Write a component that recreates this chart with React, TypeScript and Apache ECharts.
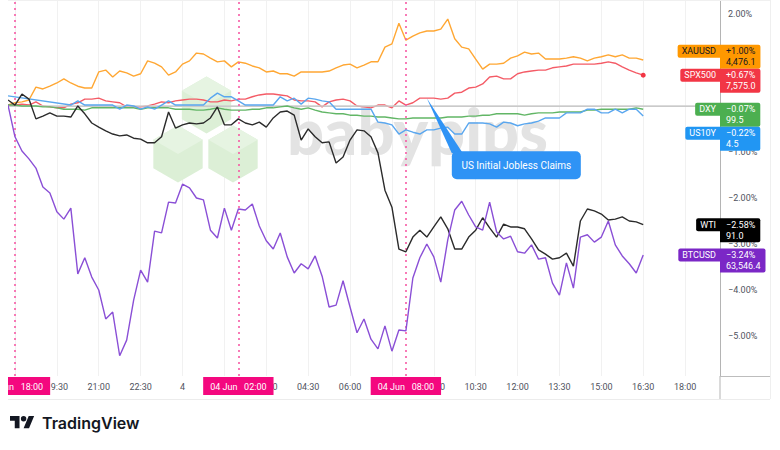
import React, { useEffect, useRef } from 'react';
import * as echarts from 'echarts';

// ---- categories: 15-minute bars, 03 Jun 17:45 -> 04 Jun 19:15 ----
const DAY_NAMES = ['03 Jun', '04 Jun'];
const START_MIN = 17 * 60 + 45;
const STEP_MIN = 15;
const CATEGORY_COUNT = 103;
const categories: string[] = [];
for (let i = 0; i < CATEGORY_COUNT; i++) {
  const t = START_MIN + STEP_MIN * i;
  const d = Math.floor(t / 1440);
  const m = t % 1440;
  categories.push(
    `${DAY_NAMES[d]} ${String(Math.floor(m / 60)).padStart(2, '0')}:${String(m % 60).padStart(2, '0')}`
  );
}

// ---- % change series ----
const xauusd = [
  0.02, 0.07, 0.09, 0.13, 0.41, 0.37, 0.43, 0.5, 0.59, 0.5,
  0.43, 0.39, 0.39, 0.74, 0.78, 0.63, 0.76, 0.72, 0.65, 0.7,
  0.98, 0.93, 0.85, 0.67, 0.74, 0.91, 0.98, 1.15, 1.13, 1.04,
  0.96, 0.98, 0.85, 0.96, 0.93, 0.87, 0.83, 0.74, 0.76, 0.7,
  0.7, 0.65, 0.74, 0.74, 0.74, 0.74, 0.76, 0.83, 0.89, 0.91,
  0.83, 0.89, 0.96, 0.96, 1.28, 1.35, 1.8, 1.43, 1.52, 1.59,
  1.63, 1.63, 1.67, 1.89, 1.46, 1.28, 1.24, 1.02, 0.8, 0.91,
  0.91, 0.93, 1.04, 1.09, 1.17, 1.13, 1.15, 1.02, 1.02, 1.02,
  1.04, 1.07, 1.04, 0.98, 1.04, 1.07, 1.11, 1.07, 1.11, 1.04,
  1.04, 1.0,
];
const spx500 = [
  0.02, 0.02, 0.04, 0.02, 0.09, 0.0, -0.02, -0.04, -0.04, 0.04,
  0.07, 0.15, 0.15, 0.17, 0.11, 0.09, 0.07, -0.02, -0.02, -0.02,
  0.0, 0.04, 0.09, 0.07, 0.11, 0.13, 0.15, 0.15, 0.13, 0.09,
  0.09, 0.13, 0.11, 0.15, 0.15, 0.2, 0.24, 0.26, 0.26, 0.24,
  0.22, 0.13, 0.11, 0.11, 0.09, -0.02, 0.09, 0.13, 0.15, 0.11,
  0.0, -0.02, -0.04, 0.02, 0.02, -0.04, 0.11, 0.02, 0.07, 0.17,
  0.17, 0.17, 0.15, 0.17, 0.28, 0.3, 0.39, 0.41, 0.48, 0.63,
  0.65, 0.59, 0.59, 0.7, 0.74, 0.76, 0.78, 0.78, 0.83, 0.85,
  0.87, 0.91, 0.91, 0.91, 0.91, 0.93, 0.96, 0.93, 0.85, 0.78,
  0.72, 0.67,
];
const dxy = [
  0.02, 0.02, 0.0, 0.0, 0.0, -0.02, -0.02, -0.04, -0.07, -0.07,
  -0.07, -0.09, -0.04, -0.04, -0.04, -0.04, -0.04, -0.04, -0.04, -0.07,
  -0.04, -0.04, -0.04, -0.04, -0.07, -0.07, -0.07, -0.09, -0.09, -0.07,
  -0.04, -0.07, -0.09, -0.09, -0.09, -0.07, -0.07, -0.04, -0.04, -0.02,
  0.0, -0.04, -0.07, -0.04, -0.09, -0.13, -0.15, -0.17, -0.17, -0.2,
  -0.2, -0.22, -0.22, -0.24, -0.24, -0.26, -0.28, -0.28, -0.26, -0.26,
  -0.26, -0.26, -0.26, -0.24, -0.24, -0.24, -0.22, -0.22, -0.2, -0.2,
  -0.17, -0.17, -0.17, -0.17, -0.2, -0.17, -0.15, -0.15, -0.15, -0.13,
  -0.13, -0.13, -0.13, -0.09, -0.09, -0.07, -0.07, -0.07, -0.07, -0.07,
  -0.04, -0.07,
];
const us10y = [
  0.22, null, null, null, null, null, null, null, null, 0.02,
  0.11, 0.02, 0.02, 0.02, 0.02, 0.02, -0.07, 0.02, 0.0, -0.07,
  -0.02, -0.07, 0.02, 0.11, 0.02, 0.02, 0.02, 0.02, 0.02, 0.17,
  0.28, 0.2, 0.2, 0.11, 0.02, 0.02, 0.02, 0.02, 0.02, 0.2,
  0.11, 0.17, 0.04, 0.17, 0.15, 0.11, 0.09, -0.07, -0.07, -0.07,
  -0.07, -0.07, -0.07, -0.35, -0.37, -0.41, -0.61, -0.52, -0.57, -0.61,
  -0.52, -0.52, -0.48, -0.46, -0.61, -0.61, -0.37, -0.37, -0.37, -0.39,
  -0.46, -0.35, -0.37, -0.43, -0.39, -0.37, -0.33, -0.26, -0.26, -0.26,
  -0.15, -0.15, -0.15, -0.07, -0.07, -0.15, -0.15, -0.07, -0.15, -0.07,
  -0.07, -0.22,
];
const wti = [
  0.13, 0.02, 0.26, 0.15, -0.28, -0.22, -0.15, -0.22, -0.22, -0.24,
  0.0, -0.17, -0.37, -0.46, -0.54, -0.61, -0.65, -0.63, -0.7, -0.72,
  -0.8, -0.8, -0.67, -0.13, -0.48, -0.41, -0.37, -0.39, -0.37, -0.26,
  -0.02, -0.41, -0.41, -0.28, -0.37, -0.41, -0.35, -0.46, -0.26, -0.13,
  -0.11, -0.2, -0.74, -0.5, -0.67, -0.8, -0.78, -1.24, -1.11, -0.74,
  -0.52, -0.54, -0.67, -1.02, -1.83, -2.2, -3.11, -3.17, -2.85, -2.7,
  -2.85, -2.63, -2.41, -2.67, -3.11, -3.11, -2.85, -2.7, -2.43, -2.65,
  -2.85, -2.57, -2.63, -2.63, -2.67, -2.89, -3.13, -3.22, -3.33, -3.3,
  -3.2, -3.48, -2.5, -2.24, -2.28, -2.35, -2.48, -2.46, -2.41, -2.5,
  -2.52, -2.58,
];
const btcusd = [
  0.02, -0.67, -0.98, -1.15, -1.35, -1.76, -1.89, -2.3, -2.46, -2.22,
  -3.65, -3.3, -3.72, -4.0, -4.63, -4.48, -5.43, -5.09, -4.22, -3.57,
  -3.83, -2.72, -2.76, -2.09, -2.11, -1.7, -1.78, -2.0, -2.04, -2.7,
  -2.87, -2.22, -2.7, -2.24, -2.26, -2.13, -2.61, -2.93, -3.11, -2.76,
  -3.28, -3.63, -3.43, -3.54, -3.26, -3.7, -4.37, -4.33, -3.8, -4.37,
  -4.93, -4.63, -5.07, -5.28, -4.78, -5.33, -4.87, -4.89, -3.74, -3.3,
  -3.0, -3.28, -3.83, -2.91, -2.26, -2.07, -2.37, -2.63, -2.7, -2.09,
  -2.74, -2.89, -2.83, -3.17, -3.2, -3.02, -3.33, -3.3, -3.85, -4.11,
  -3.41, -3.96, -2.85, -2.8, -2.96, -2.85, -2.5, -3.02, -3.26, -3.43,
  -3.63, -3.24,
];

const seriesNames = ['XAUUSD', 'SPX500', 'DXY', 'US10Y', 'WTI', 'BTCUSD'];
const seriesData = [xauusd, spx500, dxy, us10y, wti, btcusd];
const lastPrices = ['4,476.1', '7,575.0', '99.5', '4.5', '91.0', '63,546.4'];
const lineColors = ['#ffa733', '#f45b66', '#62b666', '#5aa7ef', '#2b2b2b', '#8a4fd6'];
const tagColors = ['#ff9800', '#f23645', '#4caf50', '#2196f3', '#000000', '#7b27c6'];
const tagTextColors = ['#131722', '#ffffff', '#ffffff', '#ffffff', '#ffffff', '#ffffff'];
const labelPriority = [1, 2, 4, 5, 0, 3];

// 1.00% and 0.00% sit fully under the XAUUSD / DXY price tags in the reference
const yTicks = [2, -1, -2, -3, -4, -5];
const sessionMarkers = ['03 Jun 18:00', '04 Jun 02:00', '04 Jun 08:00'];
const hiddenTickLabels = ['03 Jun 18:00', '04 Jun 01:30', '04 Jun 07:30']; // fully under the session boxes
const eventName = 'US Initial Jobless Claims';
const eventIndex = 60; // 04 Jun 08:45 on SPX500

const fmtPct = (v: number) => (v < 0 ? '\u2212' : '') + Math.abs(v).toFixed(2) + '%';
const fmtChg = (v: number) => (v < 0 ? '\u2212' : '+') + Math.abs(v).toFixed(2) + '%';

const TV_PATH = 'M14 22H7V11H0V4h14v18zM28 22h-8l7.5-18h8L28 22zM16 8a4 4 0 1 0 8 0a4 4 0 1 0 -8 0z';
echarts.graphic.registerShape('tvlogo', echarts.graphic.extendPath(TV_PATH, {}) as any);

const tickEvery = (i: number) => (i - 1) % 6 === 0;

function hexPoints(cx: number, cy: number, r: number) {
  const w = r * 0.866;
  return [
    [cx, cy - r], [cx + w, cy - r / 2], [cx + w, cy + r / 2],
    [cx, cy + r], [cx - w, cy + r / 2], [cx - w, cy - r / 2],
  ];
}
function hexTop(cx: number, cy: number, r: number) {
  const w = r * 0.866;
  return [[cx, cy - r], [cx + w, cy - r / 2], [cx, cy], [cx - w, cy - r / 2]];
}

export default function App() {
  const ref = useRef<HTMLDivElement>(null);
  useEffect(() => {
    const el = ref.current!;
    const chart = echarts.init(el, undefined, { renderer: 'svg' });
    const font = 'Roboto, "Noto Sans", sans-serif';

    const series: any[] = seriesNames.map((name, k) => ({
      name,
      type: 'line',
      data: seriesData[k],
      showSymbol: false,
      connectNulls: true,
      silent: true,
      z: 3 + k,
      lineStyle: { color: lineColors[k], width: 1.4 },
      itemStyle: { color: lineColors[k] },
    }));

    series[0].markLine = {
      silent: true,
      symbol: ['none', 'none'],
      animation: false,
      data: [
        { yAxis: 0, lineStyle: { color: '#cfcfcf', width: 1.6, type: 'solid' }, label: { show: false } },
        ...sessionMarkers.map((c) => ({
          xAxis: c,
          lineStyle: { color: '#f75aa5', width: 1.6, type: [2, 4] },
          label: {
            show: true,
            position: 'start',
            formatter: c.replace(/ (\d\d:\d\d)$/, '   $1'),
            color: '#ffffff',
            backgroundColor: '#f4087f',
            padding: [5, 7, 4, 7],
            fontSize: 9,
            fontFamily: font,
            distance: 1,
          },
        })),
      ],
    };
    series[1].markPoint = {
      silent: true,
      animation: false,
      data: [
        {
          coord: [spx500.length - 1, spx500[spx500.length - 1]],
          symbol: 'circle',
          symbolSize: 5,
          itemStyle: { color: '#f23645' },
          label: { show: false },
        },
      ],
    };

    chart.setOption({
      animation: false,
      backgroundColor: '#ffffff',
      grid: { left: 0, right: 60, top: 0, bottom: 74, containLabel: false, outerBoundsMode: 'none' },
      xAxis: {
        type: 'category',
        data: categories,
        boundaryGap: false,
        axisLine: { show: true, lineStyle: { color: '#bdbdbd', width: 1 } },
        axisTick: { show: false },
        axisLabel: {
          interval: (i: number) => tickEvery(i),
          formatter: (v: string) => {
            if (hiddenTickLabels.includes(v)) return '';
            const t = v.slice(7);
            return t === '00:00' ? String(parseInt(v.slice(0, 2), 10)) : t;
          },
          color: '#50535e',
          fontSize: 9,
          fontFamily: font,
          margin: 6,
        },
        splitLine: { show: true, interval: (i: number) => tickEvery(i), lineStyle: { color: '#f1f1f1', width: 1 } },
      },
      yAxis: {
        type: 'value',
        position: 'right',
        min: -5.87,
        max: 2.304,
        axisLine: { show: true, lineStyle: { color: '#b4b4b4', width: 1 } },
        axisTick: { show: false },
        splitLine: { show: false },
        axisLabel: {
          customValues: yTicks,
          formatter: (v: number) => fmtPct(v),
          color: '#50535e',
          fontSize: 9,
          fontFamily: font,
          margin: 8,
        },
      },
      series,
    });

    // ---- overlays positioned through the chart's scales ----
    const lastIdx = spx500.length - 1;
    const H = 24;
    const OFF = 6.5;
    const placed: number[] = [];
    const tops: number[] = [];
    const overlaps = (t: number) => placed.some((p) => t < p + H - 0.01 && t + H > p + 0.01);
    for (const k of labelPriority) {
      const y = chart.convertToPixel({ gridIndex: 0 }, [lastIdx, seriesData[k][lastIdx] as number])[1];
      let t = y - OFF;
      if (overlaps(t)) {
        const cands: number[] = [];
        placed.forEach((p) => cands.push(p - H, p + H));
        const free = cands.filter((c) => !overlaps(c)).sort((a, b) => Math.abs(a - t) - Math.abs(b - t));
        t = free[0];
      }
      placed.push(t);
      tops[k] = t;
    }
    const axisX = chart.convertToPixel({ gridIndex: 0 }, [CATEGORY_COUNT - 1, 0])[0];
    const axisY = chart.convertToPixel({ gridIndex: 0 }, [0, -5.87])[1];

    const priceLabels: any[] = [];
    seriesNames.forEach((name, k) => {
      const v = seriesData[k][lastIdx] as number;
      priceLabels.push({
        type: 'text',
        x: axisX,
        y: tops[k],
        z: 100,
        style: {
          text: name,
          align: 'right',
          verticalAlign: 'top',
          fill: tagTextColors[k],
          backgroundColor: tagColors[k],
          padding: [1, 4, 1, 4],
          lineHeight: 11,
          fontSize: 9,
          fontFamily: font,
          borderRadius: [2, 0, 0, 2],
        },
      });
      priceLabels.push({
        type: 'text',
        x: axisX,
        y: tops[k],
        z: 100,
        style: {
          text: fmtChg(v) + '\n' + lastPrices[k],
          align: 'left',
          verticalAlign: 'top',
          fill: tagTextColors[k],
          backgroundColor: tagColors[k],
          padding: [1, 5, 1, 6],
          lineHeight: 11,
          fontSize: 9,
          fontFamily: font,
          borderRadius: [0, 2, 2, 0],
        },
      });
    });

    const [ax, ay] = chart.convertToPixel({ gridIndex: 0 }, [eventIndex, spx500[eventIndex]]);
    const callout: any[] = [
      {
        type: 'polygon',
        z: 90,
        shape: { points: [[ax, ay], [ax + 25, ay + 55], [ax + 36, ay + 55]] },
        style: { fill: '#2f93f5' },
      },
      {
        type: 'rect',
        z: 90,
        shape: { x: ax + 25, y: ay + 53, width: 129, height: 28, r: 5 },
        style: { fill: '#2f93f5' },
      },
      {
        type: 'text',
        z: 91,
        x: ax + 25 + 64.5,
        y: ay + 53 + 14,
        style: {
          text: eventName,
          align: 'center',
          verticalAlign: 'middle',
          fill: '#ffffff',
          fontSize: 10,
          fontFamily: font,
        },
      },
    ];

    const watermark: any[] = [
      ...[
        [198.5, 105],
        [170, 154],
        [225, 154],
      ].flatMap(([cx, cy]) => [
        { type: 'polygon', z: 0, silent: true, shape: { points: hexPoints(cx, cy, 28.5) }, style: { fill: '#dcefd6' } },
        { type: 'polygon', z: 0, silent: true, shape: { points: hexTop(cx, cy, 28.5) }, style: { fill: '#e6f4e2' } },
      ]),
      {
        type: 'text',
        z: 0,
        silent: true,
        x: 279,
        y: 130,
        style: {
          text: 'babypips',
          fill: '#e3e3e3',
          fontSize: 65,
          fontWeight: 900,
          fontFamily: 'Lato, sans-serif',
          align: 'left',
          verticalAlign: 'middle',
        },
      },
    ];

    const frame: any[] = [
      { type: 'line', z: 1, silent: true, shape: { x1: axisX, y1: axisY, x2: axisX, y2: 399 }, style: { stroke: '#b4b4b4', lineWidth: 1 } },
      { type: 'line', z: 1, silent: true, shape: { x1: axisX, y1: axisY + 0.5, x2: 762, y2: axisY + 0.5 }, style: { stroke: '#bdbdbd', lineWidth: 1 } },
      { type: 'line', z: 1, silent: true, shape: { x1: 0, y1: 399.5, x2: 762, y2: 399.5 }, style: { stroke: '#ececec', lineWidth: 1 } },
      { type: 'line', z: 1, silent: true, shape: { x1: 762.5, y1: 0, x2: 762.5, y2: 399 }, style: { stroke: '#efefef', lineWidth: 1 } },
      { type: 'line', z: 1, silent: true, shape: { x1: 0, y1: 0.5, x2: 762, y2: 0.5 }, style: { stroke: '#f0f0f0', lineWidth: 1 } },
    ];

    const logo: any[] = [
      { type: 'tvlogo', x: 2, y: 413.3, scaleX: 0.68, scaleY: 0.68, style: { fill: '#131722' } },
      {
        type: 'text',
        x: 34,
        y: 423,
        style: {
          text: 'TradingView',
          fill: '#131722',
          fontSize: 16,
          fontWeight: 600,
          fontFamily: 'Inter, sans-serif',
          align: 'left',
          verticalAlign: 'middle',
        },
      },
    ];

    chart.setOption({ graphic: [...watermark, ...frame, ...callout, ...priceLabels, ...logo] });

    return () => chart.dispose();
  }, []);
  return (
    <div
      ref={ref}
      style={{ position: 'absolute', left: 8, top: 0, width: 772, height: 450, background: '#ffffff' }}
    />
  );
}
